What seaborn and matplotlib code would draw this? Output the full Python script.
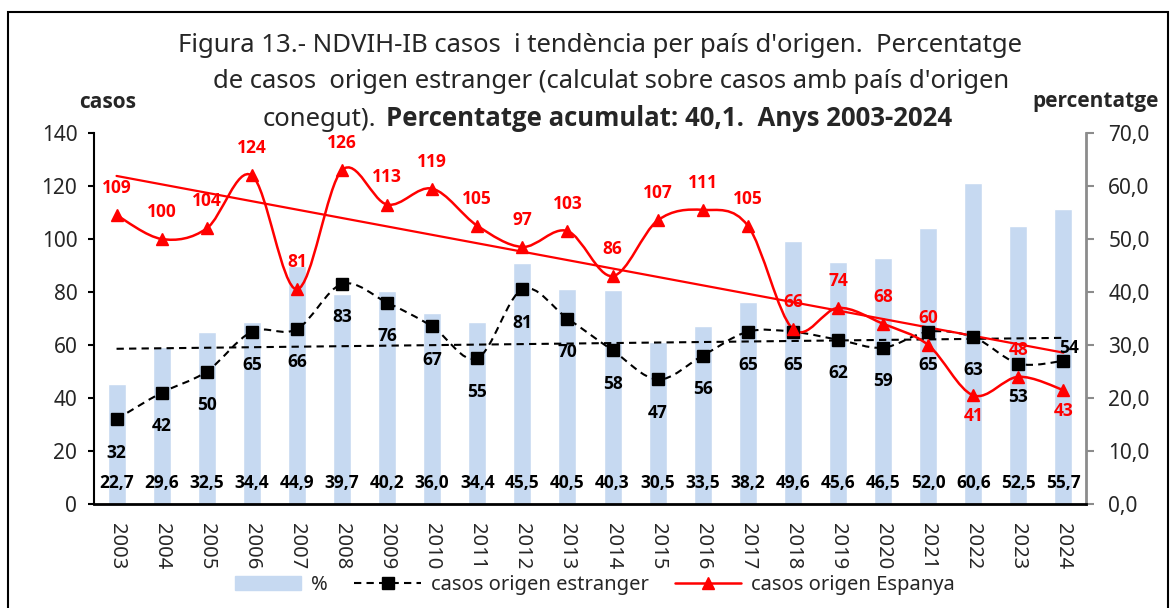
import matplotlib
matplotlib.use('Agg')
import matplotlib.pyplot as plt
from matplotlib.path import Path
from matplotlib.patches import PathPatch, Patch, Rectangle
from matplotlib.lines import Line2D
import seaborn as sns
import numpy as np
import pandas as pd

years = [str(y) for y in range(2003, 2025)]
pct_estranger = [22.7, 29.6, 32.5, 34.4, 44.9, 39.7, 40.2, 36.0, 34.4, 45.5, 40.5,
                 40.3, 30.5, 33.5, 38.2, 49.6, 45.6, 46.5, 52.0, 60.6, 52.5, 55.7]
casos_estranger = [32, 42, 50, 65, 66, 83, 76, 67, 55, 81, 70,
                   58, 47, 56, 65, 65, 62, 59, 65, 63, 53, 54]
casos_espanya = [109, 100, 104, 124, 81, 126, 113, 119, 105, 97, 103,
                 86, 107, 111, 105, 66, 74, 68, 60, 41, 48, 43]

RED = '#FF0000'
BAR = '#C6D9F1'
BOLD = ['Open Sans', 'DejaVu Sans']   # Noto Sans here is a variable font with no bold

sns.set_style("white")
plt.rcParams['font.family'] = ['Noto Sans', 'DejaVu Sans']


def smooth_path(xs, ys):
    # excel style smoothed line: cubic bezier through every point
    pts = np.column_stack([xs, ys]).astype(float)
    n = len(pts)
    verts = [pts[0]]
    codes = [Path.MOVETO]
    for i in range(n - 1):
        p0 = pts[i - 1] if i > 0 else pts[i]
        p1 = pts[i]
        p2 = pts[i + 1]
        p3 = pts[i + 2] if i + 2 < n else pts[i + 1]
        verts += [p1 + (p2 - p0) / 6, p2 - (p3 - p1) / 6, p2]
        codes += [Path.CURVE4] * 3
    return Path(verts, codes)


df = pd.DataFrame({'any': years, 'pct': pct_estranger})
x = np.arange(len(years))

fig = plt.figure(figsize=(11.72, 6.08), dpi=100)
ax_bar = fig.add_axes([94 / 1172, 1 - 504 / 608, (1086 - 94) / 1172, (504 - 133) / 608])
sns.barplot(data=df, x='any', y='pct', color=BAR, saturation=1, width=0.4, ax=ax_bar)
ax_line = ax_bar.twinx()

ax_bar.set_xlim(-0.5, len(years) - 0.5)
ax_bar.set_ylim(0, 70)
ax_line.set_ylim(0, 140)

# lines
dash = (0, (3.5, 2.5))
ax_line.add_patch(PathPatch(smooth_path(x, casos_estranger), fill=False, ec='black',
                            lw=1.5, ls=dash, zorder=3))
ax_line.add_patch(PathPatch(smooth_path(x, casos_espanya), fill=False, ec=RED, lw=1.8, zorder=4))
ax_line.plot(x, casos_estranger, ls='none', marker='s', ms=8, color='black', zorder=5)
ax_line.plot(x, casos_espanya, ls='none', marker='^', ms=9, color=RED, zorder=6)

# linear trends
fe = np.polyfit(x, casos_estranger, 1)
fs = np.polyfit(x, casos_espanya, 1)
ends = np.array([x[0], x[-1]])
ax_line.plot(ends, np.polyval(fe, ends), color='black', lw=1.5, ls=dash, zorder=3)
ax_line.plot(ends, np.polyval(fs, ends), color=RED, lw=1.6, zorder=3)

# data labels
lab = dict(ha='center', va='center', fontsize=12.5, fontweight='bold', family=BOLD, zorder=7)
for i in range(len(years)):
    ax_line.text(i, 7.8, f"{pct_estranger[i]:.1f}".replace('.', ','), color='black', **lab)
    off = (4, 9) if years[i] == '2024' else (0, -24)
    ax_line.annotate(str(casos_estranger[i]), (i, casos_estranger[i]), xytext=off,
                     textcoords='offset points', color='black', **lab)
    dy = -15 if years[i] in ('2022', '2024') else 19.5
    ax_line.annotate(str(casos_espanya[i]), (i, casos_espanya[i]), xytext=(0, dy),
                     textcoords='offset points', color=RED, **lab)

# axes styling
ax_bar.set_xticks(x)
ax_bar.set_xticklabels(years, rotation=-90, fontsize=14.5)
ax_bar.set_xticks(np.arange(-0.5, len(years)), minor=True)
ax_bar.tick_params(axis='x', which='major', length=0, pad=14)
ax_bar.tick_params(axis='x', which='minor', length=7, width=1.5, direction='out', color='black')
ax_bar.set_xlabel('')
ax_bar.set_ylabel('')

ax_bar.yaxis.tick_right()
ax_bar.set_yticks(np.arange(0, 71, 10))
ax_bar.set_yticklabels([f"{v:.1f}".replace('.', ',') for v in np.arange(0, 71, 10)], fontsize=15)
ax_bar.tick_params(axis='y', which='major', right=True, left=False, length=6, width=1.5,
                   direction='out', color='#8c8c8c', pad=10)

ax_line.yaxis.tick_left()
ax_line.set_yticks(np.arange(0, 141, 20))
ax_line.set_yticklabels([str(v) for v in range(0, 141, 20)], fontsize=15)
ax_line.tick_params(axis='y', which='major', left=True, right=False, length=4, width=1.5,
                    direction='out', color='black', pad=8)

for s in ['top', 'left']:
    ax_bar.spines[s].set_visible(False)
ax_bar.spines['bottom'].set_color('black')
ax_bar.spines['bottom'].set_linewidth(2)
ax_bar.spines['right'].set_color('#8c8c8c')
ax_bar.spines['right'].set_linewidth(2)
for s in ['top', 'right', 'bottom']:
    ax_line.spines[s].set_visible(False)
ax_line.spines['left'].set_color('black')
ax_line.spines['left'].set_linewidth(1.5)

# titles and axis captions
fig.text(600 / 1172, 1 - 46 / 608,
         "Figura 13.- NDVIH-IB casos  i tendència per país d'origen.  Percentatge",
         ha='center', va='center', fontsize=18.5)
fig.text(611 / 1172, 1 - 82 / 608,
         "de casos  origen estranger (calculat sobre casos amb país d'origen",
         ha='center', va='center', fontsize=18.5)
fig.text(376 / 1172, 1 - 119 / 608, "conegut).", ha='right', va='center', fontsize=18.5)
fig.text(386 / 1172, 1 - 119 / 608, "Percentatge acumulat: 40,1.  Anys 2003-2024",
         ha='left', va='center', fontsize=18.5, fontweight='bold', family=BOLD)
fig.text(108 / 1172, 1 - 102 / 608, "casos", ha='center', va='center', fontsize=15,
         fontweight='bold', family=BOLD)
fig.text(1096 / 1172, 1 - 102 / 608, "percentatge", ha='center', va='center', fontsize=15,
         fontweight='bold', family=BOLD)

handles = [Patch(color=BAR, label='%'),
           Line2D([], [], color='black', ls=dash, lw=1.5, marker='s', ms=8,
                  label='casos origen estranger'),
           Line2D([], [], color=RED, lw=1.8, marker='^', ms=9, label='casos origen Espanya')]
fig.legend(handles=handles, loc='center', bbox_to_anchor=(595 / 1172, 1 - 585 / 608), ncol=3,
           frameon=False, fontsize=14.5, handlelength=3.3, columnspacing=1.3, handletextpad=0.5)

# outer frame
fig.patches.append(Rectangle((8 / 1172, -0.01), 1160 / 1172, 0.99, transform=fig.transFigure,
                             fill=False, ec='black', lw=1.5))

fig.savefig('out.png', dpi=100)
